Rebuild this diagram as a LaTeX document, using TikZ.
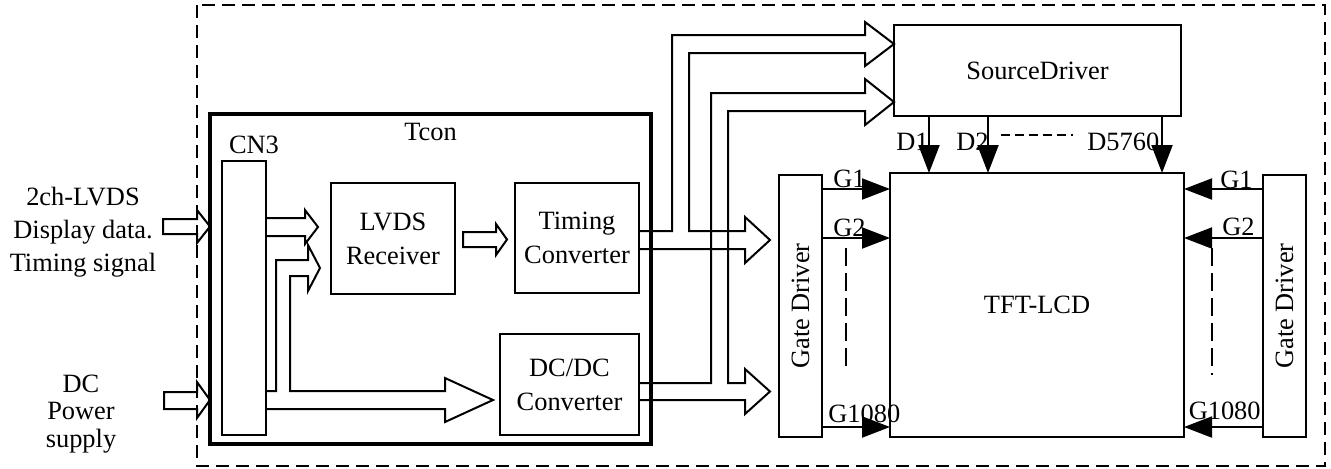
\documentclass[tikz,border=0pt]{standalone}
\usepackage{fontspec}
\setmainfont{Liberation Serif}
\usetikzlibrary{positioning,arrows.meta,calc}
\tikzset{
  blk/.style={draw,line width=1pt,inner sep=0pt,outer sep=0pt,align=center,
    font=\fontsize{13.2}{17}\selectfont},
  tconbox/.style={draw,line width=2.2pt,inner sep=0pt,outer sep=0pt},
  lbl/.style={inner sep=0pt,font=\fontsize{13.2}{16}\selectfont},
  sig/.style={-{Triangle[length=14pt,width=10.5pt]},line width=1pt},
  pipe/.style={line width=1pt,line join=miter},
  frame/.style={line width=1pt,dash pattern=on 6.5pt off 3.5pt},
  skipv/.style={line width=1pt,dash pattern=on 9pt off 3.5pt},
  skiph/.style={line width=1pt,dash pattern=on 4.5pt off 2.5pt},
}

\begin{document}
\begin{tikzpicture}[x=0.5pt,y=-0.5pt]
  \useasboundingbox (0,0) rectangle (1331,468);
  % panel
  \draw[frame] (197,5) rectangle (1325,466);

  % Tcon board
  \node[tconbox,minimum width=220.5pt,minimum height=165pt] (tcon) at (430.5,279) {};
  \node[lbl,below=4.5pt of tcon.north] (tconlbl) {Tcon};
  \node[blk,minimum width=22pt,minimum height=137pt] (cn) at (244,298) {};
  \node[lbl,anchor=base] (cnlbl) at (254,153) {CN3};
  \node[blk,minimum width=62pt,minimum height=55.5pt] (lvds) at (393,238.5) {LVDS\\Receiver};
  \node[blk,minimum width=62pt,minimum height=55pt] (timing) at (577,238) {Timing\\Converter};
  \node[blk,minimum width=69.5pt,minimum height=50.5pt] (dcdc) at (569.5,384.5) {DC/DC\\Converter};

  % panel side
  \node[blk,minimum width=143.5pt,minimum height=45.5pt] (src) at (1037.5,70.5) {SourceDriver};
  \node[blk,minimum width=147pt,minimum height=132pt] (lcd) at (1037,305) {TFT-LCD};
  \node[blk,minimum width=21.5pt,minimum height=131pt] (gdl) at (800.5,306) {\rotatebox{90}{Gate Driver}};
  \node[blk,minimum width=21.5pt,minimum height=131pt] (gdr) at (1284.5,306) {\rotatebox{90}{Gate Driver}};

  % inputs
  \node[lbl,anchor=north,align=center,font=\fontsize{13.2}{16.5}\selectfont]
    (lvdsin) at (83,187) {2ch-LVDS\\Display data.\\Timing signal};
  \node[lbl,anchor=north,align=center,font=\fontsize{13.2}{13.75}\selectfont]
    (dcin) at (81,374.5) {DC\\Power\\supply};
  \draw[pipe] (163,219) -- (197,219) -- (197,210) -- (tcon.west |- 0,226.5)
    -- (197,243) -- (197,234) -- (163,234) -- cycle;
  \draw[pipe] (164,392) -- (197,392) -- (197,382) -- (tcon.west |- 0,400)
    -- (197,418) -- (197,409) -- (164,409) -- cycle;

  % inside Tcon
  \draw[pipe] (cn.east |- 0,218) -- (305,218) -- (305,210) -- (318,227)
    -- (305,244) -- (305,236) -- (cn.east |- 0,236);
  \draw[pipe] (463,232) -- (496,232) -- (496,224) -- (507,239.5)
    -- (496,255) -- (496,247) -- (463,247) -- cycle;
  \draw[pipe] (cn.east |- 0,391) -- (276,391) -- (276,260) -- (308,260)
    -- (308,245) -- (320,268) -- (308,291) -- (308,276) -- (290,276)
    -- (290,391) -- (445,391) -- (445,378) -- (493,400) -- (445,422)
    -- (445,409) -- (cn.east |- 0,409);

  % Tcon outputs
  \draw[pipe] (timing.east |- 0,231) -- (672,231) -- (672,35) -- (865,35)
    -- (865,22) -- (src.west |- 0,44) -- (865,66) -- (865,53) -- (689,53)
    -- (689,231) -- (745,231) -- (745,217) -- (770,240) -- (745,263)
    -- (745,249) -- (timing.east |- 0,249);
  \draw[pipe] (dcdc.east |- 0,383) -- (711,383) -- (711,93) -- (865,93)
    -- (865,79) -- (src.west |- 0,102) -- (865,125) -- (865,111) -- (728,111)
    -- (728,383) -- (745,383) -- (745,369) -- (770,391.5) -- (745,414)
    -- (745,400) -- (dcdc.east |- 0,400);

  % data lines
  \draw[sig] (src.south -| 929,0) -- (lcd.north -| 929,0);
  \draw[sig] (src.south -| 988,0) -- (lcd.north -| 988,0);
  \draw[sig] (src.south -| 1162,0) -- (lcd.north -| 1162,0);
  \node[lbl,anchor=base west] (d1) at (896,150) {D1};
  \node[lbl,anchor=base west] (d2) at (956,150) {D2};
  \node[lbl,anchor=base west] (dn) at (1087,150) {D5760};
  \draw[skiph] (1001,135) -- (1073,135);

  % gate lines
  \draw[sig] (gdl.east |- 0,189) -- (lcd.west |- 0,189);
  \draw[sig] (gdl.east |- 0,238) -- (lcd.west |- 0,238);
  \draw[sig] (gdl.east |- 0,427) -- (lcd.west |- 0,427);
  \draw[sig] (gdr.west |- 0,189) -- (lcd.east |- 0,189);
  \draw[sig] (gdr.west |- 0,238) -- (lcd.east |- 0,238);
  \draw[sig] (gdr.west |- 0,427) -- (lcd.east |- 0,427);
  \node[lbl,anchor=base west] (g1l) at (833,187) {G1};
  \node[lbl,anchor=base west] (g2l) at (833,236) {G2};
  \node[lbl,anchor=base west] (gnl) at (828,422) {G1080};
  \node[lbl,anchor=base east] (g1r) at (1253,188) {G1};
  \node[lbl,anchor=base east] (g2r) at (1255,235) {G2};
  \node[lbl,anchor=base east] (gnr) at (1261,419) {G1080};
  \draw[skipv] (846,248) -- (846,372);
  \draw[skipv] (1212,248) -- (1212,375);
\end{tikzpicture}
\end{document}
